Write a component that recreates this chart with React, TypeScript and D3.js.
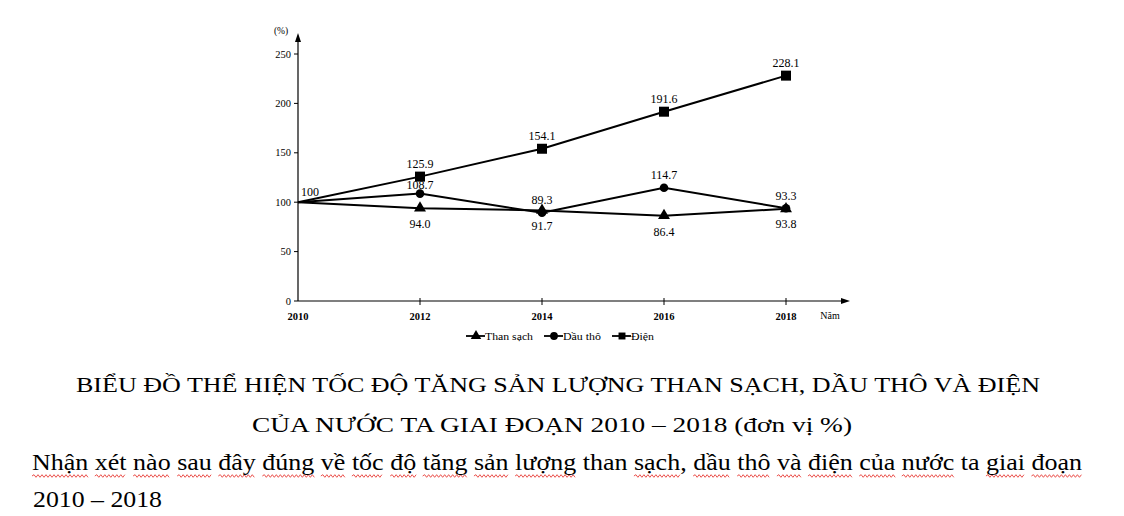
import React, { useLayoutEffect, useRef, useState } from 'react'
import * as d3 from 'd3'

const years = [2010, 2012, 2014, 2016, 2018]
const thanSach = [100, 94.0, 91.7, 86.4, 93.3]
const dauTho = [100, 108.7, 89.3, 114.7, 93.8]
const dien = [100, 125.9, 154.1, 191.6, 228.1]
const yTicks = [0, 50, 100, 150, 200, 250]

// label side for each point: -1 above, -2 above (tight), 1 below, 0 none
const thanSachPos = [0, 1, 1, 1, -1]
const dauThoPos = [0, -2, -1, -1, 1]
const dienPos = [0, -1, -1, -1, -1]

const titleLines = [
  'BIỂU ĐỒ THỂ HIỆN TỐC ĐỘ TĂNG SẢN LƯỢNG THAN SẠCH, DẦU THÔ VÀ ĐIỆN',
  'CỦA NƯỚC TA GIAI ĐOẠN 2010 – 2018 (đơn vị %)'
]
const question = 'Nhận xét nào sau đây đúng về tốc độ tăng sản lượng than sạch, dầu thô và điện của nước ta giai đoạn'
const plainWords = ['than', 'ta']

const serif = '"Liberation Serif", "Times New Roman", serif'

function wavy(x0: number, x1: number, y: number) {
  const p = d3.path()
  p.moveTo(x0, y)
  let up = true
  for (let xx = x0 + 2; xx <= x1; xx += 2) {
    p.lineTo(xx, y + (up ? -1.3 : 1.3))
    up = !up
  }
  return p.toString()
}

function labelY(v: number, pos: number, y: d3.ScaleLinear<number, number>) {
  if (pos === -2) return y(v) - 5
  return pos < 0 ? y(v) - 9 : y(v) + 20
}

export default function App() {
  const qRef = useRef<SVGTextElement>(null)
  const [spans, setSpans] = useState<[number, number][]>([])

  useLayoutEffect(() => {
    const el = qRef.current
    if (!el) return
    const out: [number, number][] = []
    let idx = 0
    question.split(' ').forEach(w => {
      const start = idx
      const end = idx + w.length - (w.endsWith(',') ? 2 : 1)
      idx += w.length + 1
      if (plainWords.includes(w.replace(',', ''))) return
      out.push([el.getStartPositionOfChar(start).x, el.getEndPositionOfChar(end).x])
    })
    setSpans(out)
  }, [])

  const x = d3.scaleLinear().domain([2010, 2018]).range([298, 786])
  const y = d3.scaleLinear().domain([0, 250]).range([301, 54])

  const line = d3.line<number>()
    .x((_, i) => x(years[i]))
    .y(d => y(d))

  const tri = d3.symbol().type(d3.symbolTriangle).size(62)()
  const circ = d3.symbol().type(d3.symbolCircle).size(58)()
  const sq = d3.symbol().type(d3.symbolSquare).size(100)()

  const series = [
    { name: 'Than sạch', values: thanSach, pos: thanSachPos, shape: tri },
    { name: 'Dầu thô', values: dauTho, pos: dauThoPos, shape: circ },
    { name: 'Điện', values: dien, pos: dienPos, shape: sq }
  ]

  const legendX = [466, 544, 612]
  const legendW = [48, 38, 23]

  return (
    <svg width={1124} height={516} style={{ position: 'absolute', left: 0, top: 0, background: '#fff' }} fontFamily={serif}>
      {/* axes */}
      <line x1={x(2010)} x2={x(2010)} y1={y(0)} y2={40} stroke="#000" strokeWidth={1.2} />
      <path d={`M${x(2010) - 3},${42} L${x(2010)},${33} L${x(2010) + 3},${42} Z`} fill="#000" />
      <line x1={x(2010)} x2={843} y1={y(0)} y2={y(0)} stroke="#000" strokeWidth={1.2} />
      <path d={`M${841},${y(0) - 3} L${850},${y(0)} L${841},${y(0) + 3} Z`} fill="#000" />
      {yTicks.map(t => (
        <g key={t}>
          <line x1={x(2010) - 4} x2={x(2010)} y1={y(t)} y2={y(t)} stroke="#000" />
          <text x={x(2010) - 7} y={y(t) + 3.5} fontSize={10.5} textAnchor="end">{t}</text>
        </g>
      ))}
      <text x={281} y={34} fontSize={9.5} textAnchor="middle">(%)</text>
      {years.map(yr => (
        <g key={yr}>
          {yr !== 2010 && <line x1={x(yr)} x2={x(yr)} y1={y(0) - 3} y2={y(0) + 4} stroke="#000" />}
          <text x={x(yr)} y={y(0) + 19} fontSize={10.5} fontWeight="bold" textAnchor="middle">{yr}</text>
        </g>
      ))}
      <text x={830} y={y(0) + 18} fontSize={10} textAnchor="middle">Năm</text>

      {/* lines */}
      {series.map(s => (
        <path key={s.name} d={line(s.values) || ''} fill="none" stroke="#000" strokeWidth={2} />
      ))}
      {series.map(s => s.values.map((v, i) => i === 0 ? null : (
        <path key={s.name + i} d={s.shape || ''} transform={`translate(${x(years[i])},${y(v)})`} fill="#000" />
      )))}
      <text x={301} y={y(100) - 6} fontSize={12} fill="#000">100</text>
      {series.map(s => s.values.map((v, i) => s.pos[i] === 0 ? null : (
        <text key={'l' + s.name + i} x={x(years[i])} y={labelY(v, s.pos[i], y)}
          fontSize={12} textAnchor="middle">{v.toFixed(1)}</text>
      )))}

      {/* legend */}
      {series.map((s, i) => (
        <g key={'lg' + s.name} transform={`translate(${legendX[i]},336)`}>
          <line x1={0} x2={19} y1={0} y2={0} stroke="#000" strokeWidth={1.8} />
          <path d={d3.symbol().type([d3.symbolTriangle, d3.symbolCircle, d3.symbolSquare][i]).size(48)() || ''}
            transform="translate(10,0)" fill="#000" />
          <text x={19} y={3.5} fontSize={10} textLength={legendW[i]} lengthAdjust="spacingAndGlyphs">{s.name}</text>
        </g>
      ))}

      {/* title */}
      <text x={558} y={392} fontSize={21} textAnchor="middle" textLength={964} lengthAdjust="spacingAndGlyphs">{titleLines[0]}</text>
      <text x={552} y={432} fontSize={21} textAnchor="middle" textLength={600} lengthAdjust="spacingAndGlyphs">{titleLines[1]}</text>

      {/* question */}
      {spans.map(([a, b], i) => (
        <path key={'w' + i} d={wavy(a, b, 476)} fill="none" stroke="#e8403a" strokeWidth={0.9} />
      ))}
      <text ref={qRef} x={32} y={470} fontSize={24} textLength={1050} lengthAdjust="spacingAndGlyphs">{question}</text>
      <text x={33} y={507} fontSize={24} textLength={129} lengthAdjust="spacingAndGlyphs">2010 – 2018</text>
    </svg>
  )
}
